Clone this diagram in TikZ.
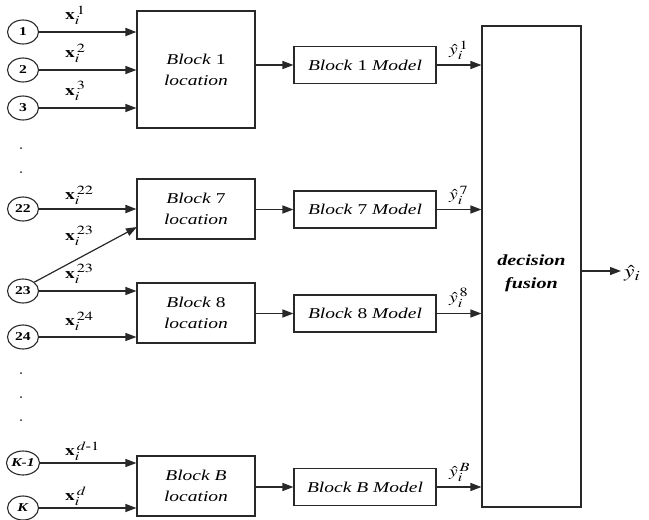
\documentclass[tikz,border=0pt]{standalone}
\usepackage{amsmath}
\usepackage{mathptmx}
\usepackage{fontspec}
\setmainfont{Liberation Serif}
\usepackage{graphicx}
\usetikzlibrary{arrows.meta,shapes.geometric}
\DeclareMathSizes{15}{15}{12.5}{10}
\DeclareMathSizes{18}{18}{14}{11}
\newcommand{\hs}[1]{\scalebox{1.3}[1]{#1}}
\definecolor{ln}{RGB}{40,40,40}
\begin{document}
\begin{tikzpicture}[x=1pt,y=-1pt,
  every node/.style={inner sep=0pt},
  box/.style={draw=ln, line width=1.1pt, fill=white, align=center,
    font=\fontsize{15}{21}\selectfont},
  inp/.style={draw=ln, ellipse, minimum width=31pt, minimum height=24pt,
    line width=1.1pt, font=\fontsize{12}{13}\selectfont\bfseries},
  arr/.style={draw=ln, line width=1.2pt, -{Triangle[length=11pt,width=8pt]}},
  thick arr/.style={arr, line width=1.8pt},
  lab/.style={font=\fontsize{15}{18}\selectfont, anchor=south west},
  dotc/.style={fill=ln}]
\useasboundingbox (0,0) rectangle (649,520);
% input circles
\node[inp] (c1) at (23,32) {\hs{1}};
\node[inp] (c2) at (23,70) {\hs{2}};
\node[inp] (c3) at (23,108) {\hs{3}};
\node[inp] (c22) at (23,209) {\hs{22}};
\node[inp] (c23) at (23,291) {\hs{23}};
\node[inp] (c24) at (23,337) {\hs{24}};
\node[inp] (cK1) at (23,463) {\hs{\textit{K-1}}};
\node[inp] (cK) at (23,508) {\hs{\textit{K}}};
% dots
\foreach \yy in {148,172,373,397,420} \fill[dotc] (21,\yy) circle (1pt);
% location boxes
\node[box, minimum width=118pt, minimum height=117pt] (L1) at (196,69.5) {\hs{\textit{Block} 1}\\\hs{\textit{location}}};
\node[box, minimum width=118pt, minimum height=60pt] (L7) at (196,209) {\hs{\textit{Block} 7}\\\hs{\textit{location}}};
\node[box, minimum width=118pt, minimum height=60pt] (L8) at (196,313) {\hs{\textit{Block} 8}\\\hs{\textit{location}}};
\node[box, minimum width=118pt, minimum height=60pt] (LB) at (196,486) {\hs{\textit{Block B}}\\\hs{\textit{location}}};
% model boxes
\node[box, minimum width=142pt, minimum height=37pt] (M1) at (365,65) {\hs{\textit{Block} 1 \textit{Model}}};
\node[box, minimum width=142pt, minimum height=37pt] (M7) at (365,209.5) {\hs{\textit{Block} 7 \textit{Model}}};
\node[box, minimum width=142pt, minimum height=37pt] (M8) at (365,313.5) {\hs{\textit{Block} 8 \textit{Model}}};
\node[box, minimum width=142pt, minimum height=37pt] (MB) at (365,487) {\hs{\textit{Block B Model}}};
% fusion box
\node[box, minimum width=99pt, minimum height=481pt] (F) at (531.5,266.5) {};
\node[align=center, font=\fontsize{15.5}{23}\selectfont\bfseries\itshape] (Ft) at (531.5,273) {\hs{decision}\\\hs{fusion}};
\coordinate (out) at (621,271);
% input arrows
\draw[thick arr] (c1.east) -- (c1.east -| L1.west);
\draw[arr] (c2.east) -- (c2.east -| L1.west);
\draw[arr] (c3.east) -- (c3.east -| L1.west);
\draw[thick arr] (c22.east) -- (c22.east -| L7.west);
\coordinate (d7) at (137,227);
\draw[arr] (c23.north east) -- (d7);
\draw[arr] (c23.east) -- (c23.east -| L8.west);
\draw[arr] (c24.east) -- (c24.east -| L8.west);
\draw[arr] (cK1.east) -- (cK1.east -| LB.west);
\draw[arr] (cK.east) -- (cK.east -| LB.west);
% input labels
\node[lab] (x1) at (65,25) {\hs{$\mathbf{x}_i^{\,1}$}};
\node[lab] (x2) at (65,63) {\hs{$\mathbf{x}_i^{\,2}$}};
\node[lab] (x3) at (65,101) {\hs{$\mathbf{x}_i^{\,3}$}};
\node[lab] (x22) at (65,205) {\hs{$\mathbf{x}_i^{\,22}$}};
\node[lab] (x23a) at (65,246) {\hs{$\mathbf{x}_i^{\,23}$}};
\node[lab] (x23b) at (65,284) {\hs{$\mathbf{x}_i^{\,23}$}};
\node[lab] (x24) at (65,331) {\hs{$\mathbf{x}_i^{\,24}$}};
\node[lab] (xd1) at (65,461) {\hs{$\mathbf{x}_i^{\,d\text{-}1}$}};
\node[lab] (xd) at (65,506) {\hs{$\mathbf{x}_i^{\,d}$}};
% location -> model
\draw[arr] (M1.west -| L1.east) -- (M1.west);
\draw[arr] (M7.west -| L7.east) -- (M7.west);
\draw[arr] (M8.west -| L8.east) -- (M8.west);
\draw[arr] (MB.west -| LB.east) -- (MB.west);
% model -> fusion
\draw[arr] (M1.east) -- (M1.east -| F.west);
\draw[arr] (M7.east) -- (M7.east -| F.west);
\draw[arr] (M8.east) -- (M8.east -| F.west);
\draw[arr] (MB.east) -- (MB.east -| F.west);
\node[lab] (y1) at (449,60) {\hs{$\hat{y}_i^{\,1}$}};
\node[lab] (y7) at (449,205) {\hs{$\hat{y}_i^{\,7}$}};
\node[lab] (y8) at (449,308) {\hs{$\hat{y}_i^{\,8}$}};
\node[lab] (yB) at (449,482) {\hs{$\hat{y}_i^{\,B}$}};
% output
\draw[arr] (F.east |- out) -- (out);
\node[font=\fontsize{18}{20}\selectfont, anchor=west] (yo) at (624,273) {\hs{$\hat{y}_i$}};
\end{tikzpicture}
\end{document}
